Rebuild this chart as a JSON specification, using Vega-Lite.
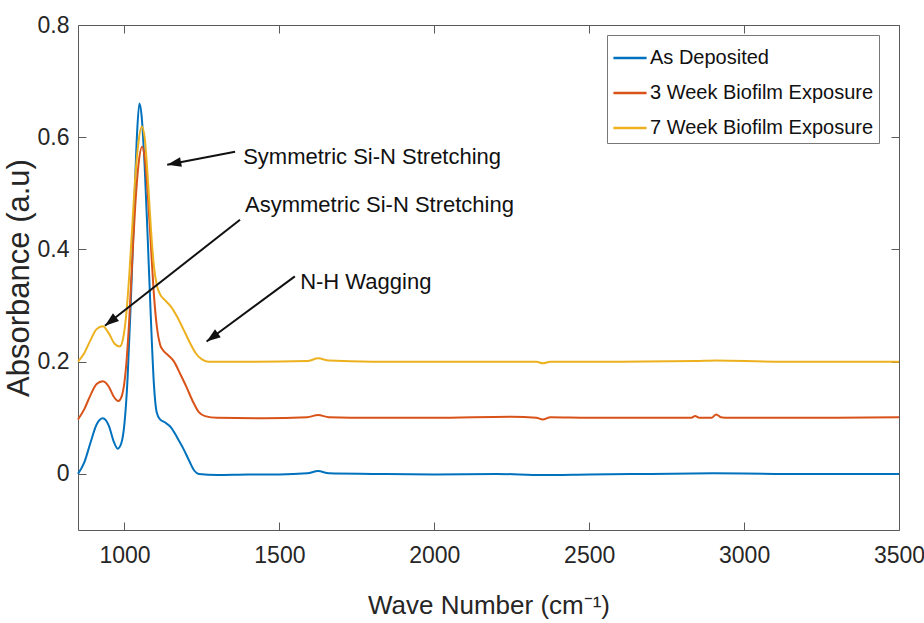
{
  "$schema": "https://vega.github.io/schema/vega-lite/v6.json",
  "autosize": "none",
  "width": 821,
  "height": 505,
  "padding": {"left": 78, "top": 25, "right": 25, "bottom": 93},
  "background": "white",
  "config": {
    "view": {"stroke": "#5a5a5a", "strokeWidth": 1},
    "axis": {"grid": false, "domain": false, "tickColor": "#5a5a5a", "tickWidth": 1, "labelColor": "#262626", "titleColor": "#262626", "titleFontWeight": "normal"}
  },
  "datasets": {
    "curves": [
      {"s": "As Deposited", "x": 850, "y": 0.0},
      {"s": "As Deposited", "x": 870, "y": 0.02},
      {"s": "As Deposited", "x": 890, "y": 0.055},
      {"s": "As Deposited", "x": 910, "y": 0.088},
      {"s": "As Deposited", "x": 930, "y": 0.099},
      {"s": "As Deposited", "x": 950, "y": 0.085},
      {"s": "As Deposited", "x": 965, "y": 0.058},
      {"s": "As Deposited", "x": 978, "y": 0.045},
      {"s": "As Deposited", "x": 990, "y": 0.055},
      {"s": "As Deposited", "x": 1000, "y": 0.09},
      {"s": "As Deposited", "x": 1010, "y": 0.17},
      {"s": "As Deposited", "x": 1020, "y": 0.3},
      {"s": "As Deposited", "x": 1030, "y": 0.45},
      {"s": "As Deposited", "x": 1040, "y": 0.6},
      {"s": "As Deposited", "x": 1048, "y": 0.66},
      {"s": "As Deposited", "x": 1055, "y": 0.64},
      {"s": "As Deposited", "x": 1065, "y": 0.55},
      {"s": "As Deposited", "x": 1075, "y": 0.42},
      {"s": "As Deposited", "x": 1085, "y": 0.28},
      {"s": "As Deposited", "x": 1095, "y": 0.16},
      {"s": "As Deposited", "x": 1104, "y": 0.11},
      {"s": "As Deposited", "x": 1115, "y": 0.097},
      {"s": "As Deposited", "x": 1130, "y": 0.092},
      {"s": "As Deposited", "x": 1150, "y": 0.083},
      {"s": "As Deposited", "x": 1170, "y": 0.065},
      {"s": "As Deposited", "x": 1190, "y": 0.045},
      {"s": "As Deposited", "x": 1210, "y": 0.022},
      {"s": "As Deposited", "x": 1225, "y": 0.006},
      {"s": "As Deposited", "x": 1240, "y": 0.0},
      {"s": "As Deposited", "x": 1300, "y": -0.002},
      {"s": "As Deposited", "x": 1400, "y": -0.001},
      {"s": "As Deposited", "x": 1500, "y": -0.001},
      {"s": "As Deposited", "x": 1590, "y": 0.001},
      {"s": "As Deposited", "x": 1625, "y": 0.005},
      {"s": "As Deposited", "x": 1660, "y": 0.001},
      {"s": "As Deposited", "x": 1800, "y": 0.0},
      {"s": "As Deposited", "x": 2000, "y": -0.001},
      {"s": "As Deposited", "x": 2200, "y": 0.0},
      {"s": "As Deposited", "x": 2350, "y": -0.002},
      {"s": "As Deposited", "x": 2500, "y": -0.001},
      {"s": "As Deposited", "x": 2700, "y": 0.0},
      {"s": "As Deposited", "x": 2900, "y": 0.001},
      {"s": "As Deposited", "x": 3100, "y": 0.0},
      {"s": "As Deposited", "x": 3300, "y": 0.0},
      {"s": "As Deposited", "x": 3500, "y": 0.0},
      {"s": "3 Week Biofilm Exposure", "x": 850, "y": 0.097},
      {"s": "3 Week Biofilm Exposure", "x": 870, "y": 0.115},
      {"s": "3 Week Biofilm Exposure", "x": 890, "y": 0.14},
      {"s": "3 Week Biofilm Exposure", "x": 910, "y": 0.16},
      {"s": "3 Week Biofilm Exposure", "x": 930, "y": 0.165},
      {"s": "3 Week Biofilm Exposure", "x": 950, "y": 0.155},
      {"s": "3 Week Biofilm Exposure", "x": 965, "y": 0.138},
      {"s": "3 Week Biofilm Exposure", "x": 980, "y": 0.13},
      {"s": "3 Week Biofilm Exposure", "x": 992, "y": 0.14},
      {"s": "3 Week Biofilm Exposure", "x": 1005, "y": 0.19},
      {"s": "3 Week Biofilm Exposure", "x": 1015, "y": 0.27},
      {"s": "3 Week Biofilm Exposure", "x": 1025, "y": 0.38},
      {"s": "3 Week Biofilm Exposure", "x": 1035, "y": 0.48},
      {"s": "3 Week Biofilm Exposure", "x": 1045, "y": 0.55},
      {"s": "3 Week Biofilm Exposure", "x": 1057, "y": 0.583},
      {"s": "3 Week Biofilm Exposure", "x": 1065, "y": 0.565},
      {"s": "3 Week Biofilm Exposure", "x": 1075, "y": 0.5},
      {"s": "3 Week Biofilm Exposure", "x": 1085, "y": 0.41},
      {"s": "3 Week Biofilm Exposure", "x": 1095, "y": 0.32},
      {"s": "3 Week Biofilm Exposure", "x": 1105, "y": 0.26},
      {"s": "3 Week Biofilm Exposure", "x": 1115, "y": 0.23},
      {"s": "3 Week Biofilm Exposure", "x": 1125, "y": 0.22},
      {"s": "3 Week Biofilm Exposure", "x": 1140, "y": 0.212},
      {"s": "3 Week Biofilm Exposure", "x": 1160, "y": 0.2},
      {"s": "3 Week Biofilm Exposure", "x": 1180, "y": 0.178},
      {"s": "3 Week Biofilm Exposure", "x": 1200, "y": 0.155},
      {"s": "3 Week Biofilm Exposure", "x": 1220, "y": 0.13},
      {"s": "3 Week Biofilm Exposure", "x": 1240, "y": 0.11},
      {"s": "3 Week Biofilm Exposure", "x": 1260, "y": 0.103},
      {"s": "3 Week Biofilm Exposure", "x": 1300, "y": 0.1},
      {"s": "3 Week Biofilm Exposure", "x": 1450, "y": 0.099},
      {"s": "3 Week Biofilm Exposure", "x": 1590, "y": 0.101},
      {"s": "3 Week Biofilm Exposure", "x": 1625, "y": 0.105},
      {"s": "3 Week Biofilm Exposure", "x": 1660, "y": 0.101},
      {"s": "3 Week Biofilm Exposure", "x": 1800, "y": 0.1},
      {"s": "3 Week Biofilm Exposure", "x": 2000, "y": 0.1},
      {"s": "3 Week Biofilm Exposure", "x": 2250, "y": 0.102},
      {"s": "3 Week Biofilm Exposure", "x": 2330, "y": 0.1},
      {"s": "3 Week Biofilm Exposure", "x": 2350, "y": 0.097},
      {"s": "3 Week Biofilm Exposure", "x": 2375, "y": 0.101},
      {"s": "3 Week Biofilm Exposure", "x": 2500, "y": 0.1},
      {"s": "3 Week Biofilm Exposure", "x": 2700, "y": 0.1},
      {"s": "3 Week Biofilm Exposure", "x": 2830, "y": 0.1},
      {"s": "3 Week Biofilm Exposure", "x": 2842, "y": 0.103},
      {"s": "3 Week Biofilm Exposure", "x": 2855, "y": 0.1},
      {"s": "3 Week Biofilm Exposure", "x": 2895, "y": 0.1},
      {"s": "3 Week Biofilm Exposure", "x": 2910, "y": 0.106},
      {"s": "3 Week Biofilm Exposure", "x": 2925, "y": 0.101},
      {"s": "3 Week Biofilm Exposure", "x": 2950, "y": 0.1},
      {"s": "3 Week Biofilm Exposure", "x": 3100, "y": 0.1},
      {"s": "3 Week Biofilm Exposure", "x": 3300, "y": 0.1},
      {"s": "3 Week Biofilm Exposure", "x": 3500, "y": 0.101},
      {"s": "7 Week Biofilm Exposure", "x": 850, "y": 0.2},
      {"s": "7 Week Biofilm Exposure", "x": 870, "y": 0.215},
      {"s": "7 Week Biofilm Exposure", "x": 890, "y": 0.238},
      {"s": "7 Week Biofilm Exposure", "x": 910, "y": 0.258},
      {"s": "7 Week Biofilm Exposure", "x": 930, "y": 0.263},
      {"s": "7 Week Biofilm Exposure", "x": 950, "y": 0.25},
      {"s": "7 Week Biofilm Exposure", "x": 968, "y": 0.232},
      {"s": "7 Week Biofilm Exposure", "x": 985, "y": 0.227},
      {"s": "7 Week Biofilm Exposure", "x": 995, "y": 0.24},
      {"s": "7 Week Biofilm Exposure", "x": 1005, "y": 0.28},
      {"s": "7 Week Biofilm Exposure", "x": 1015, "y": 0.35},
      {"s": "7 Week Biofilm Exposure", "x": 1025, "y": 0.44},
      {"s": "7 Week Biofilm Exposure", "x": 1035, "y": 0.53},
      {"s": "7 Week Biofilm Exposure", "x": 1045, "y": 0.59},
      {"s": "7 Week Biofilm Exposure", "x": 1056, "y": 0.619},
      {"s": "7 Week Biofilm Exposure", "x": 1065, "y": 0.6},
      {"s": "7 Week Biofilm Exposure", "x": 1075, "y": 0.53},
      {"s": "7 Week Biofilm Exposure", "x": 1085, "y": 0.44},
      {"s": "7 Week Biofilm Exposure", "x": 1095, "y": 0.37},
      {"s": "7 Week Biofilm Exposure", "x": 1105, "y": 0.335},
      {"s": "7 Week Biofilm Exposure", "x": 1115, "y": 0.32},
      {"s": "7 Week Biofilm Exposure", "x": 1130, "y": 0.31},
      {"s": "7 Week Biofilm Exposure", "x": 1150, "y": 0.298},
      {"s": "7 Week Biofilm Exposure", "x": 1170, "y": 0.28},
      {"s": "7 Week Biofilm Exposure", "x": 1190, "y": 0.258},
      {"s": "7 Week Biofilm Exposure", "x": 1210, "y": 0.235},
      {"s": "7 Week Biofilm Exposure", "x": 1230, "y": 0.215},
      {"s": "7 Week Biofilm Exposure", "x": 1250, "y": 0.204},
      {"s": "7 Week Biofilm Exposure", "x": 1270, "y": 0.2},
      {"s": "7 Week Biofilm Exposure", "x": 1400, "y": 0.2},
      {"s": "7 Week Biofilm Exposure", "x": 1590, "y": 0.201},
      {"s": "7 Week Biofilm Exposure", "x": 1625, "y": 0.206},
      {"s": "7 Week Biofilm Exposure", "x": 1660, "y": 0.202},
      {"s": "7 Week Biofilm Exposure", "x": 1800, "y": 0.2},
      {"s": "7 Week Biofilm Exposure", "x": 2000, "y": 0.2},
      {"s": "7 Week Biofilm Exposure", "x": 2200, "y": 0.2},
      {"s": "7 Week Biofilm Exposure", "x": 2330, "y": 0.2},
      {"s": "7 Week Biofilm Exposure", "x": 2350, "y": 0.197},
      {"s": "7 Week Biofilm Exposure", "x": 2375, "y": 0.2},
      {"s": "7 Week Biofilm Exposure", "x": 2600, "y": 0.2},
      {"s": "7 Week Biofilm Exposure", "x": 2842, "y": 0.201},
      {"s": "7 Week Biofilm Exposure", "x": 2910, "y": 0.202},
      {"s": "7 Week Biofilm Exposure", "x": 3100, "y": 0.2},
      {"s": "7 Week Biofilm Exposure", "x": 3300, "y": 0.2},
      {"s": "7 Week Biofilm Exposure", "x": 3500, "y": 0.2}
    ],
    "notes": [
      {"label": "Symmetric Si-N Stretching", "x": 1383, "y": 0.565},
      {"label": "Asymmetric Si-N Stretching", "x": 1389, "y": 0.48},
      {"label": "N-H Wagging", "x": 1567, "y": 0.342}
    ],
    "arrows": [
      {"a": "sym", "x": 1357, "y": 0.574, "x2": 1138, "y2": 0.551},
      {"a": "asym", "x": 1373, "y": 0.453, "x2": 937, "y2": 0.264},
      {"a": "nh", "x": 1550, "y": 0.352, "x2": 1265, "y2": 0.236}
    ]
  },
  "resolve": {"axis": {"x": "independent", "y": "independent"}},
  "layer": [
    {
      "data": {"name": "curves"},
      "mark": {"type": "line", "strokeWidth": 2, "interpolate": "monotone"},
      "encoding": {
        "x": {"field": "x", "type": "quantitative", "scale": {"domain": [850, 3500], "nice": false, "zero": false},
          "axis": {"orient": "bottom", "values": [1000, 1500, 2000, 2500, 3000, 3500], "format": "d", "offset": -8, "tickSize": 8, "labelPadding": 14, "labelFlush": false, "labelFont": "Liberation Sans, Arial, sans-serif", "labelFontSize": 23, "title": "Wave Number (cm⁻¹)", "titleFont": "Liberation Sans, Arial, sans-serif", "titleFontSize": 26, "titlePadding": 25}},
        "y": {"field": "y", "type": "quantitative", "scale": {"domain": [-0.1, 0.8], "nice": false, "zero": false},
          "axis": {"orient": "left", "values": [0, 0.2, 0.4, 0.6, 0.8], "format": ".1~f", "offset": -8, "tickSize": 8, "labelPadding": 9, "labelFlush": false, "labelFont": "Liberation Sans, Arial, sans-serif", "labelFontSize": 23, "title": "Absorbance (a.u)", "titleFont": "Liberation Sans, Arial, sans-serif", "titleFontSize": 31, "titlePadding": 2}},
        "color": {"field": "s", "type": "nominal",
          "scale": {"domain": ["As Deposited", "3 Week Biofilm Exposure", "7 Week Biofilm Exposure"], "range": ["#0072BD", "#D95319", "#EDB120"]},
          "legend": {"title": null, "orient": "none", "legendX": 529, "legendY": 10, "symbolType": "stroke", "symbolSize": 1100, "symbolStrokeWidth": 2.5, "labelFont": "Liberation Sans, Arial, sans-serif", "labelFontSize": 20, "labelColor": "#111", "labelLimit": 0, "labelOffset": 2, "rowPadding": 7, "padding": 5, "strokeColor": "#777", "fillColor": "white"}}
      }
    },
    {
      "data": {"name": "notes"},
      "mark": {"type": "text", "align": "left", "baseline": "middle", "font": "Liberation Sans, Arial, sans-serif", "fontSize": 22, "color": "#111"},
      "encoding": {
        "x": {"field": "x", "type": "quantitative", "axis": {"orient": "top", "values": [1000, 1500, 2000, 2500, 3000, 3500], "offset": -8, "tickSize": 8, "labels": false, "title": null}},
        "y": {"field": "y", "type": "quantitative", "axis": {"orient": "right", "values": [0, 0.2, 0.4, 0.6, 0.8], "offset": -8, "tickSize": 8, "labels": false, "title": null}},
        "text": {"field": "label"}
      }
    },
    {
      "data": {"name": "arrows"},
      "mark": {"type": "rule", "strokeWidth": 2, "color": "#111"},
      "encoding": {
        "x": {"field": "x", "type": "quantitative", "axis": null},
        "y": {"field": "y", "type": "quantitative", "axis": null},
        "x2": {"field": "x2"},
        "y2": {"field": "y2"}
      }
    },
    {
      "data": {"name": "arrows"},
      "transform": [{"filter": "datum.a == 'sym'"}],
      "mark": {"type": "point", "shape": "M0,0L0.7,2L-0.7,2Z", "size": 196, "filled": true, "color": "#111", "opacity": 1, "angle": 259},
      "encoding": {
        "x": {"field": "x2", "type": "quantitative", "axis": null},
        "y": {"field": "y2", "type": "quantitative", "axis": null}
      }
    },
    {
      "data": {"name": "arrows"},
      "transform": [{"filter": "datum.a == 'asym'"}],
      "mark": {"type": "point", "shape": "M0,0L0.7,2L-0.7,2Z", "size": 196, "filled": true, "color": "#111", "opacity": 1, "angle": 232},
      "encoding": {
        "x": {"field": "x2", "type": "quantitative", "axis": null},
        "y": {"field": "y2", "type": "quantitative", "axis": null}
      }
    },
    {
      "data": {"name": "arrows"},
      "transform": [{"filter": "datum.a == 'nh'"}],
      "mark": {"type": "point", "shape": "M0,0L0.7,2L-0.7,2Z", "size": 196, "filled": true, "color": "#111", "opacity": 1, "angle": 234},
      "encoding": {
        "x": {"field": "x2", "type": "quantitative", "axis": null},
        "y": {"field": "y2", "type": "quantitative", "axis": null}
      }
    }
  ]
}
